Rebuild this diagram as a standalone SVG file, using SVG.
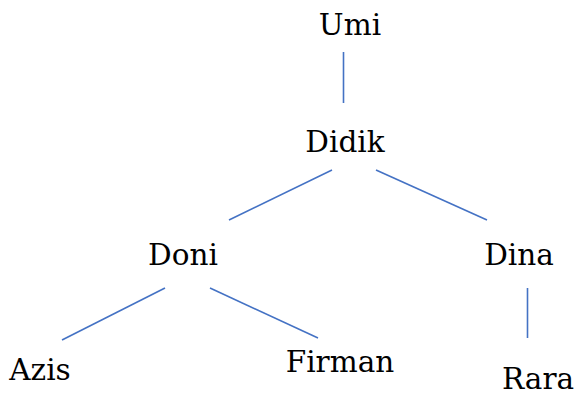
<svg xmlns="http://www.w3.org/2000/svg" width="577" height="397" viewBox="0 0 577 397">
<style>
text{font-family:"DejaVu Serif","Liberation Serif",serif;font-size:29.5px;fill:#000;text-anchor:middle}
.c line{stroke:#4472C4;stroke-width:1.6}
</style>
<rect width="577" height="397" fill="#fff"/>
<g class="c" id="connectors">
<line x1="343.5" y1="52" x2="343.5" y2="103"/>
<line x1="332" y1="170" x2="229" y2="220"/>
<line x1="376" y1="170" x2="487" y2="220"/>
<line x1="165" y1="288" x2="62" y2="340"/>
<line x1="210" y1="288" x2="318" y2="338"/>
<line x1="527.5" y1="288" x2="527.5" y2="338"/>
</g>
<g id="umi"><text x="350" y="35">Umi</text></g>
<g id="didik"><text x="345" y="152">Didik</text></g>
<g id="doni"><text x="183" y="265">Doni</text></g>
<g id="dina"><text x="519" y="265">Dina</text></g>
<g id="azis"><text x="40" y="380">Azis</text></g>
<g id="firman"><text x="340" y="372">Firman</text></g>
<g id="rara"><text x="538" y="389">Rara</text></g>
</svg>
